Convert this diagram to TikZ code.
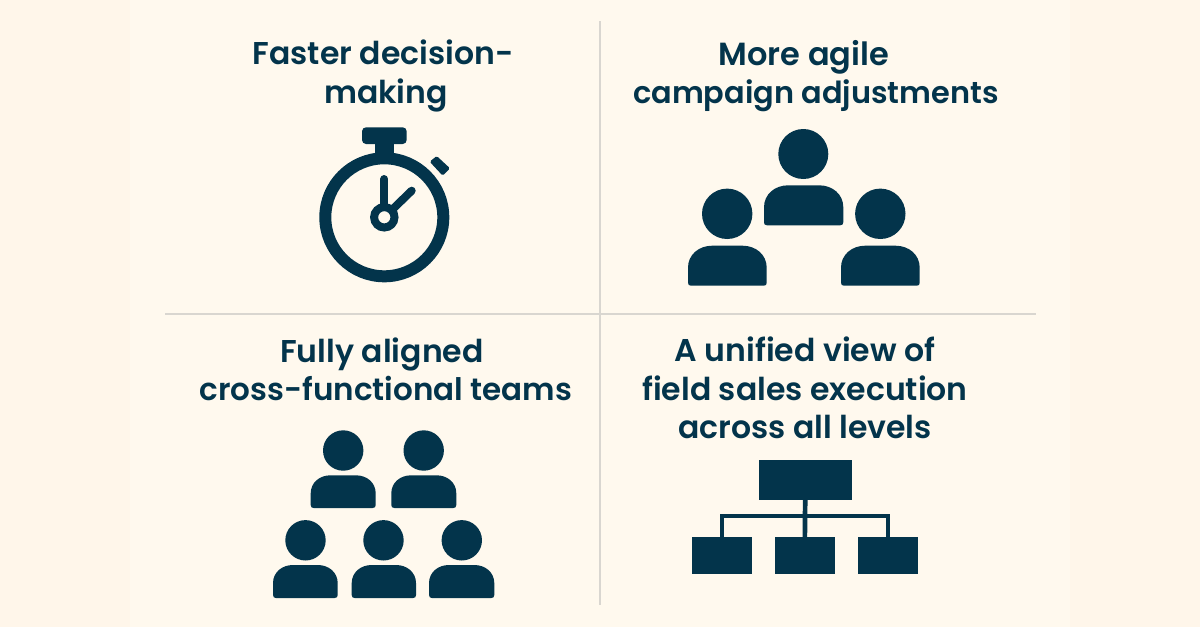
\documentclass[tikz,border=0pt]{standalone}
\usepackage{fontspec}
\setmainfont{Poppins}[BoldFont={Poppins SemiBold}]
\definecolor{outerbg}{HTML}{FFF6EA}
\definecolor{innerbg}{HTML}{FFF9EE}
\definecolor{ink}{HTML}{03344B}
\definecolor{rule}{HTML}{D9D6D0}
\newcommand{\personicon}[7]{%
  \fill[ink] (#1,#2) circle[radius=#3pt];
  \pgfmathsetmacro{\cr}{0.55*(#7-#5)}
  \fill[ink] ({#4+3},#7) .. controls ({#4+1},#7) and (#4,{#7-1}) .. (#4,{#7-3})
    -- (#4,{#5+\cr}) .. controls (#4,{#5+0.4*\cr}) and ({#4+0.5*\cr},#5) .. ({#4+1.1*\cr},#5)
    -- ({#6-1.1*\cr},#5) .. controls ({#6-0.5*\cr},#5) and (#6,{#5+0.4*\cr}) .. (#6,{#5+\cr})
    -- (#6,{#7-3}) .. controls (#6,{#7-1}) and ({#6-1},#7) .. ({#6-3},#7) -- cycle;
}
\tikzset{
  title/.style={text=ink,align=center,font=\fontsize{31.5}{38.5}\selectfont\bfseries,inner sep=0pt},
  orgbox/.style={fill=ink,inner sep=0pt,outer sep=0pt},
  orgline/.style={draw=ink,line width=4.7pt},
  gridrule/.style={draw=rule,line width=2.4pt}
}
\begin{document}
\begin{tikzpicture}[x=1pt,y=-1pt]
\useasboundingbox (0,0) rectangle (1200,627);
\fill[outerbg] (0,0) rectangle (1200,627);
\fill[innerbg] (130,0) rectangle (1070,627);
\draw[gridrule] (600,21) -- (600,605);
\draw[gridrule] (165,314) -- (1036,314);
% titles
\node[title] (t1) at (383,76) {Faster decision-\\\hspace{6pt}making};
\node[title] (t2) at (816,76) {{\fontsize{32}{38.5}\selectfont More agile}\kern24pt\\{\fontsize{30.4}{38.5}\selectfont campaign adjustments}};
\node[title] (t3) at (386,369.5) {Fully aligned\kern8pt\\{\fontsize{31}{38.5}\selectfont cross-functional teams}};
\node[title] (t4) at (805,388) {A unified view of\\field sales execution\\across all levels};
% stopwatch
\draw[ink,line width=12pt] (384.3,217.3) circle[radius=59pt];
\fill[ink] (375.3,140) rectangle (394,162);
\fill[ink,rounded corners=4pt] (362,127.3) rectangle (406.7,144);
\fill[ink,rounded corners=1.5pt] (429.7,161.7) -- (436.7,156) -- (450,168.3) -- (442.7,175.7) -- cycle;
\draw[ink,line width=8pt,line cap=round] (384.3,217.3) -- (384.3,179);
\draw[ink,line width=8pt,line cap=round] (384.3,217.3) -- (411.7,190.7);
\filldraw[fill=innerbg,draw=ink,line width=8pt] (384.3,217.3) circle[radius=10.2pt];
% three people
\personicon{803.3}{154}{25}{764}{185.3}{843.3}{225.3}
\personicon{727.2}{213.8}{25.2}{688}{245.7}{766.7}{285.7}
\personicon{880.3}{213.8}{25.2}{841}{245.7}{919.7}{285.7}
% five people
\personicon{343.2}{450.5}{20.2}{310.7}{475.3}{375.7}{508}
\personicon{423.7}{450.5}{20.2}{391.3}{475.3}{456.3}{508}
\personicon{305.5}{540.3}{20.2}{273}{565}{337.7}{598}
\personicon{383.5}{540.3}{20.2}{351.7}{565}{416}{598}
\personicon{461.8}{540.3}{20.2}{429}{565}{494.3}{598}
% org chart
\coordinate (bus) at (805,516);
\node[orgbox,minimum width=93pt,minimum height=39.7pt] (top) at (805.2,479.85) {};
\node[orgbox,minimum width=60.3pt,minimum height=37pt] (left) at (721.85,555.5) {};
\node[orgbox,minimum width=60.3pt,minimum height=37pt] (mid) at (804.85,555.5) {};
\node[orgbox,minimum width=60.3pt,minimum height=37pt] (right) at (887.85,555.5) {};
\draw[orgline] (top.south) -- (mid.north);
\draw[orgline] (left.north) |- (bus) -| (right.north);
\end{tikzpicture}
\end{document}
